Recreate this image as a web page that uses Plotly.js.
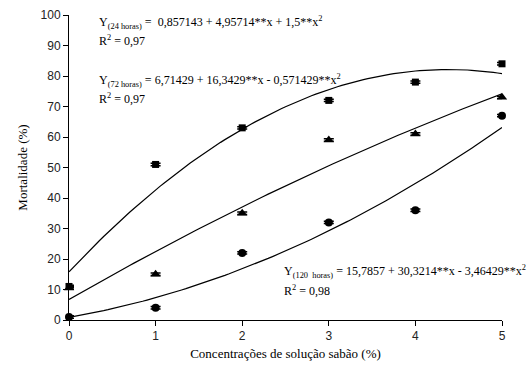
<!DOCTYPE html>
<html>
<head>
<meta charset="utf-8">
<script src="https://cdn.plot.ly/plotly-3.0.1.min.js"></script>
<style>html,body{margin:0;padding:0;background:#fff;}#chart{width:527px;height:372px;}</style>
</head>
<body>
<div id="chart"></div>
<script>
// Data
const concentrations = [0, 1, 2, 3, 4, 5];
const mort24h = [1, 4, 22, 32, 36, 67];      // circles
const mort72h = [10.5, 15, 35, 59, 61, 73];  // triangles
const mort120h = [11, 51, 63, 72, 78, 84];   // squares

// Regression coefficients printed on the chart [a, b, c] for a + b x + c x^2
const coef24h = [0.857143, 4.95714, 1.5];
const coef72h = [6.71429, 16.3429, -0.571429];
const coef120h = [15.7857, 30.3214, -3.46429];

const xTicks = [0, 1, 2, 3, 4, 5];
const yTicks = [0, 10, 20, 30, 40, 50, 60, 70, 80, 90, 100];

const fitX = [];
for (let i = 0; i <= 100; i++) fitX.push(i * 5 / 100);
const fitY = c => fitX.map(x => c[0] + c[1] * x + c[2] * x * x);

const markerTrace = (y, symbol, size) => ({
  x: concentrations, y: y, type: 'scatter', mode: 'markers',
  marker: {symbol: symbol, size: size, color: '#000'},
  error_y: {type: 'constant', value: 0.4, width: 5, thickness: 1.5, color: '#000'},
  cliponaxis: false, showlegend: false, hoverinfo: 'skip'
});
const lineTrace = c => ({
  x: fitX, y: fitY(c), type: 'scatter', mode: 'lines',
  line: {color: '#000', width: 1.2}, showlegend: false, hoverinfo: 'skip'
});

const data = [
  lineTrace(coef24h), lineTrace(coef72h), lineTrace(coef120h),
  markerTrace(mort120h, 'square', 7),
  markerTrace(mort72h, 'triangle-up', 9),
  markerTrace(mort24h, 'circle', 8)
];

const serif = {family: 'Liberation Serif, Times New Roman, serif', size: 12, color: '#000'};
const ann = (x, y, text) => ({xref: 'paper', yref: 'paper', x: x, y: y, xanchor: 'left', yanchor: 'middle',
  text: text, showarrow: false, font: serif, align: 'left'});

const layout = {
  width: 527, height: 372,
  margin: {l: 69, r: 25, t: 15, b: 52},
  paper_bgcolor: '#fff', plot_bgcolor: '#fff',
  xaxis: {
    range: [0, 5], tickvals: xTicks, ticktext: xTicks.map(String),
    showgrid: false, zeroline: false, showline: true, linecolor: '#000', linewidth: 1,
    ticks: 'outside', ticklen: 5, tickcolor: '#000',
    tickfont: {family: 'Liberation Sans, Arial, sans-serif', size: 12, color: '#222'},
    title: {text: 'Concentrações de solução sabão (%)', font: {family: 'Liberation Serif, Times New Roman, serif', size: 13, color: '#000'}, standoff: 6}
  },
  yaxis: {
    range: [0, 100], tickvals: yTicks, ticktext: yTicks.map(String),
    showgrid: false, zeroline: false, showline: true, linecolor: '#000', linewidth: 1,
    ticks: 'outside', ticklen: 5, tickcolor: '#000',
    tickfont: {family: 'Liberation Sans, Arial, sans-serif', size: 12, color: '#222'},
    title: {text: 'Mortalidade (%)', font: {family: 'Liberation Serif, Times New Roman, serif', size: 13, color: '#000'}, standoff: 10}
  },
  annotations: [
    ann(0.064, 0.975, 'Y<sub>(24 horas)</sub> =  0,857143 + 4,95714**x + 1,5**x<sup>2</sup>'),
    ann(0.064, 0.915, 'R<sup>2</sup> = 0,97'),
    ann(0.064, 0.785, 'Y<sub>(72 horas)</sub> = 6,71429 + 16,3429**x - 0,571429**x<sup>2</sup>'),
    ann(0.064, 0.725, 'R<sup>2</sup> = 0,97'),
    ann(0.492, 0.160, 'Y<sub>(120  horas)</sub> = 15,7857 + 30,3214**x - 3,46429**x<sup>2</sup>'),
    ann(0.492, 0.098, 'R<sup>2</sup> = 0,98')
  ]
};

Plotly.newPlot('chart', data, layout, {displayModeBar: false, staticPlot: true});
</script>
</body>
</html>
